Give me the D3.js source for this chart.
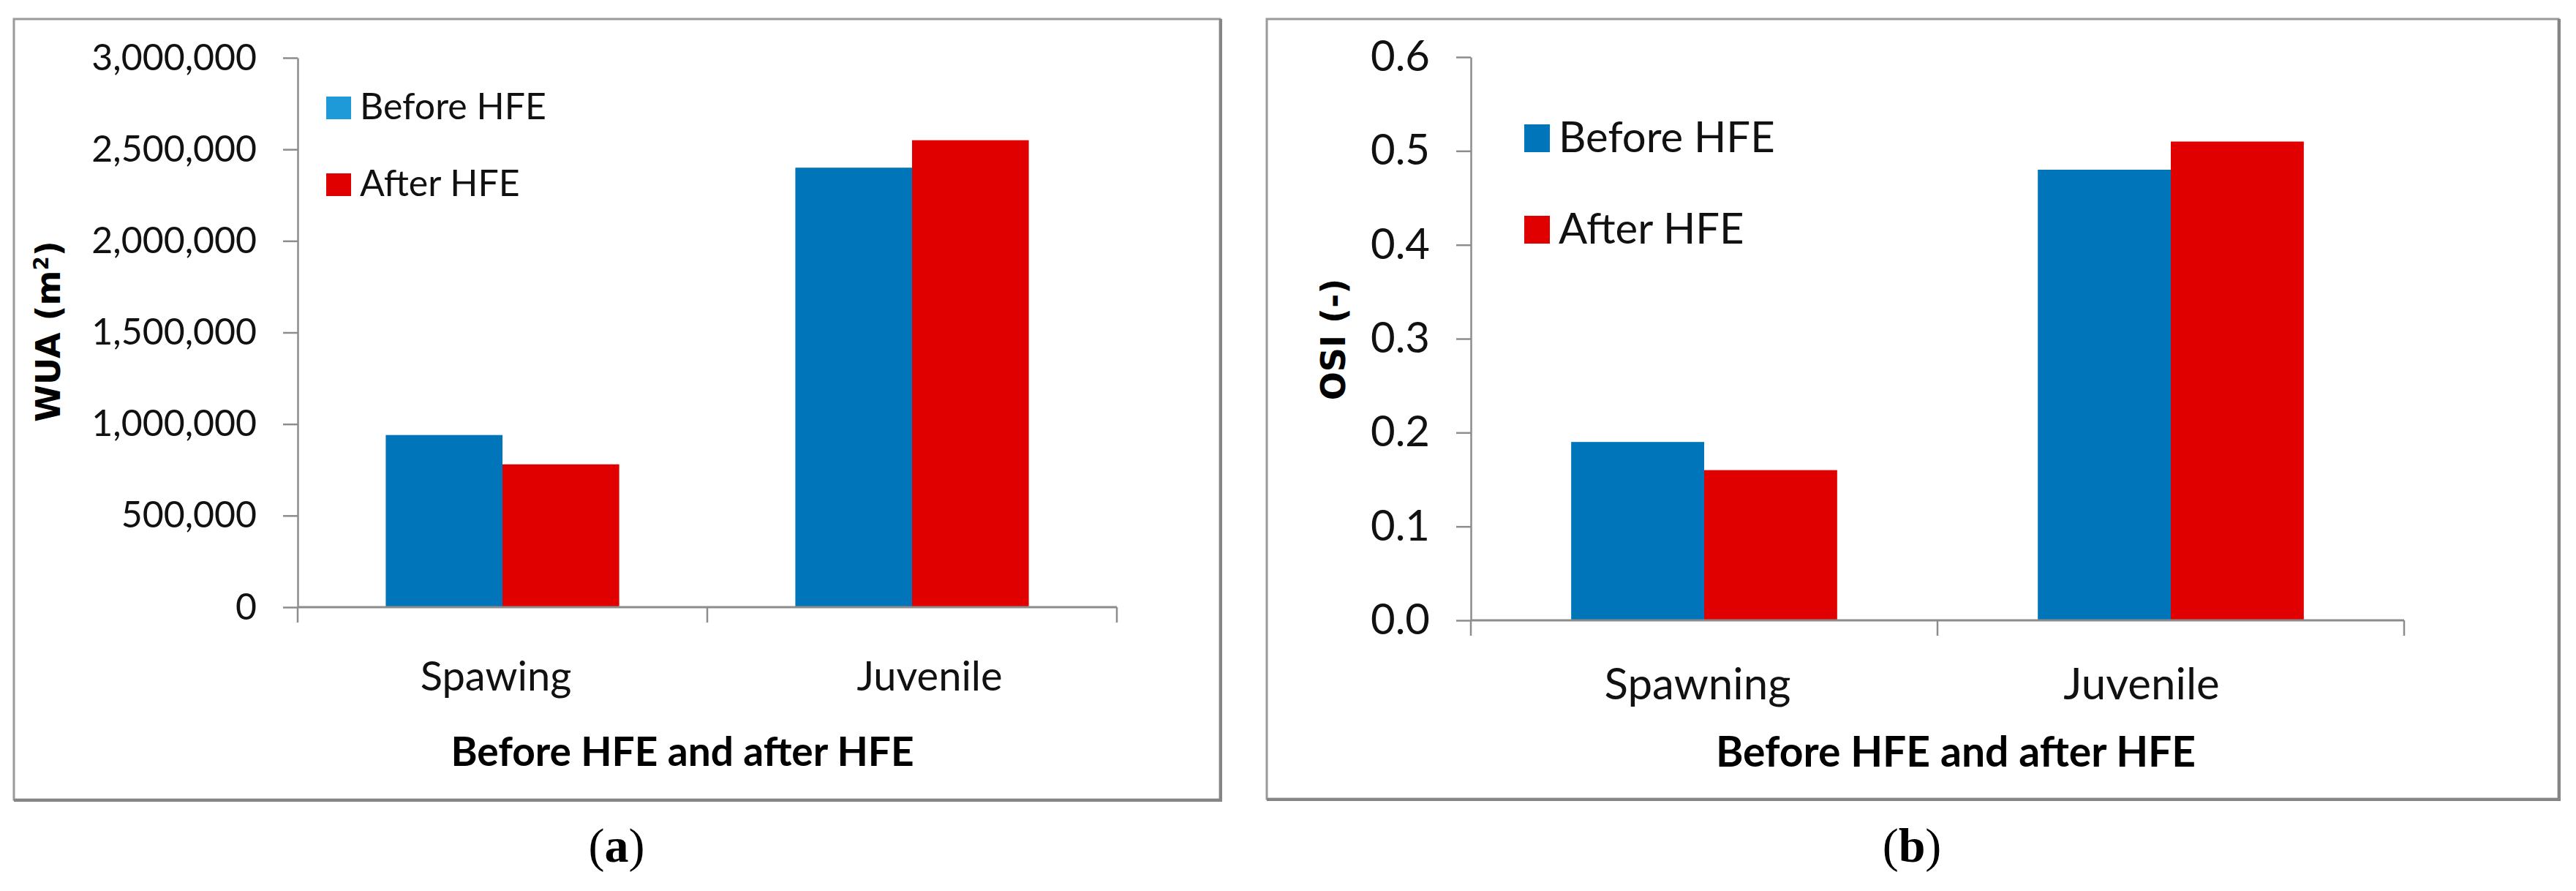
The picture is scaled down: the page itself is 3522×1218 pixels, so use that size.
<!DOCTYPE html>
<html>
<head>
<meta charset="utf-8">
<script src="https://cdnjs.cloudflare.com/ajax/libs/d3/7.8.5/d3.min.js"></script>
<style>
  html, body { margin: 0; padding: 0; background: #fff; }
  svg { display: block; }
</style>
</head>
<body>
<svg id="chart" width="3522" height="1218"></svg>
<script>
// ==========================================
// DATA
// ==========================================
const seriesNames = ['Before HFE', 'After HFE'];

const wuaCategories = ['Spawing', 'Juvenile'];
const wuaBefore = [940000, 2400000];
const wuaAfter = [780000, 2550000];
const wuaTicks = [0, 500000, 1000000, 1500000, 2000000, 2500000, 3000000];

const osiCategories = ['Spawning', 'Juvenile'];
const osiBefore = [0.19, 0.48];
const osiAfter = [0.16, 0.51];
const osiTicks = [0, 0.1, 0.2, 0.3, 0.4, 0.5, 0.6];

// ==========================================
// STYLE
// ==========================================
const BLUE = '#0075b9';
const RED = '#e00000';
const GREY = '#8c8c8c';
const CAL = 'Lato, "Open Sans", sans-serif';

const svg = d3.select('#chart');
svg.append('rect').attr('width', 3522).attr('height', 1218).attr('fill', '#fff');

// layout for each panel (pixel positions of frame and plot area)
const panels = [
  {
    frame: [19, 26, 1668, 1093],
    plot: { left: 407, right: 1527, top: 79, bottom: 830 },
    categories: wuaCategories,
    values: [wuaBefore, wuaAfter],
    ticks: wuaTicks,
    tickFormat: d3.format(','),
    tickFont: 50,
    catFont: 56, catY: 944, catDx: [-9, 24],
    xTitle: 'Before HFE and after HFE', xTitleFont: 55, xTitleX: 933, xTitleY: 1047,
    yTitle: ['WUA (m', '2', ')'], yTitleFont: 46, yTitlePos: [82, 453],
    legend: { x: 446, y: [132, 237], w: 34, h: 31, font: 50, colors: ['#1e9ad8', RED] },
    caption: 'a', captionX: 843
  },
  {
    frame: [1732, 26, 3498, 1092],
    plot: { left: 2011, right: 3287, top: 78, bottom: 848 },
    categories: osiCategories,
    values: [osiBefore, osiAfter],
    ticks: osiTicks,
    tickFormat: d3.format('.1f'),
    tickFont: 58,
    catFont: 60, catY: 956, catDx: [-9, -40],
    xTitle: 'Before HFE and after HFE', xTitleFont: 57, xTitleX: 2674, xTitleY: 1048,
    yTitle: ['OSI (-)'], yTitleFont: 46, yTitlePos: [1839, 464],
    legend: { x: 2084, y: [170, 295], w: 35, h: 38, font: 58, colors: [BLUE, RED] },
    caption: 'b', captionX: 2614
  }
];

panels.forEach(drawPanel);

function drawPanel(p) {
  const g = svg.append('g');
  const [fx0, fy0, fx1, fy1] = p.frame;

  // frame with a slightly heavier bottom/right edge
  g.append('rect')
    .attr('x', fx0).attr('y', fy0)
    .attr('width', fx1 - fx0).attr('height', fy1 - fy0)
    .attr('fill', '#fff').attr('stroke', '#9a9a9a').attr('stroke-width', 3);
  g.append('path')
    .attr('d', `M${fx0},${fy1 + 1}H${fx1 + 1}V${fy0}`)
    .attr('fill', 'none').attr('stroke', '#858585').attr('stroke-width', 4);

  const { left, right, top, bottom } = p.plot;
  const maxTick = p.ticks[p.ticks.length - 1];

  const y = d3.scaleLinear().domain([0, maxTick]).range([bottom, top]);
  const x0 = d3.scaleBand().domain(p.categories).range([left, right])
    .paddingInner(0.43).paddingOuter(0.215);
  const x1 = d3.scaleBand().domain(seriesNames).range([0, x0.bandwidth()]);
  const colors = [BLUE, RED];

  // bars
  p.categories.forEach((cat, ci) => {
    seriesNames.forEach((s, si) => {
      g.append('rect')
        .attr('x', x0(cat) + x1(s))
        .attr('y', y(p.values[si][ci]))
        .attr('width', x1.bandwidth())
        .attr('height', y(0) - y(p.values[si][ci]))
        .attr('fill', colors[si]);
    });
  });

  // y axis
  const yAxis = g.append('g')
    .attr('transform', `translate(${left},0)`)
    .call(d3.axisLeft(y).tickValues(p.ticks).tickFormat(p.tickFormat)
      .tickSize(20).tickSizeOuter(0).tickPadding(36));
  yAxis.select('.domain').attr('stroke', GREY).attr('stroke-width', 2.5);
  yAxis.selectAll('.tick line').attr('stroke', GREY).attr('stroke-width', 2.5);
  yAxis.selectAll('.tick text')
    .attr('font-family', CAL).attr('font-size', p.tickFont).attr('fill', '#111');

  // x axis baseline and category divider ticks
  g.append('line')
    .attr('x1', left).attr('x2', right).attr('y1', y(0)).attr('y2', y(0))
    .attr('stroke', GREY).attr('stroke-width', 3);
  d3.range(p.categories.length + 1).forEach(i => {
    const tx = left + i * x0.step();
    g.append('line')
      .attr('x1', tx).attr('x2', tx).attr('y1', y(0)).attr('y2', y(0) + 21)
      .attr('stroke', GREY).attr('stroke-width', 2.5);
  });

  // category labels
  g.selectAll('.cat')
    .data(p.categories)
    .enter().append('text')
    .attr('x', (d, i) => x0(d) + x0.bandwidth() / 2 + p.catDx[i])
    .attr('y', p.catY)
    .attr('text-anchor', 'middle')
    .attr('font-family', CAL).attr('font-size', p.catFont).attr('fill', '#111')
    .text(d => d);

  // x title
  g.append('text')
    .attr('x', p.xTitleX).attr('y', p.xTitleY)
    .attr('text-anchor', 'middle')
    .attr('font-family', CAL).attr('font-weight', 'bold')
    .attr('font-size', p.xTitleFont).attr('fill', '#000')
    .text(p.xTitle);

  // y title (rotated)
  const yt = g.append('text')
    .attr('transform', `translate(${p.yTitlePos[0]},${p.yTitlePos[1]}) rotate(-90)`)
    .attr('text-anchor', 'middle')
    .attr('font-family', '"DejaVu Sans", sans-serif').attr('font-weight', 'bold')
    .attr('font-size', p.yTitleFont).attr('fill', '#000');
  yt.append('tspan').text(p.yTitle[0]);
  if (p.yTitle.length > 1) {
    yt.append('tspan').attr('dy', -16).attr('font-size', p.yTitleFont * 0.6).text(p.yTitle[1]);
    yt.append('tspan').attr('dy', 16).text(p.yTitle[2]);
  }

  // legend
  seriesNames.forEach((s, i) => {
    const ly = p.legend.y[i];
    g.append('rect')
      .attr('x', p.legend.x).attr('y', ly)
      .attr('width', p.legend.w).attr('height', p.legend.h)
      .attr('fill', p.legend.colors[i]);
    g.append('text')
      .attr('x', p.legend.x + p.legend.w + 12).attr('y', ly + p.legend.h)
      .attr('font-family', CAL).attr('font-size', p.legend.font).attr('fill', '#111')
      .text(s);
  });

  // caption under the frame
  const cap = svg.append('text')
    .attr('x', p.captionX).attr('y', 1178)
    .attr('text-anchor', 'middle')
    .attr('font-family', '"Liberation Serif", "Times New Roman", serif')
    .attr('font-size', 66).attr('fill', '#000');
  cap.append('tspan').text('(');
  cap.append('tspan').attr('font-weight', 'bold').text(p.caption);
  cap.append('tspan').text(')');
}
</script>
</body>
</html>
